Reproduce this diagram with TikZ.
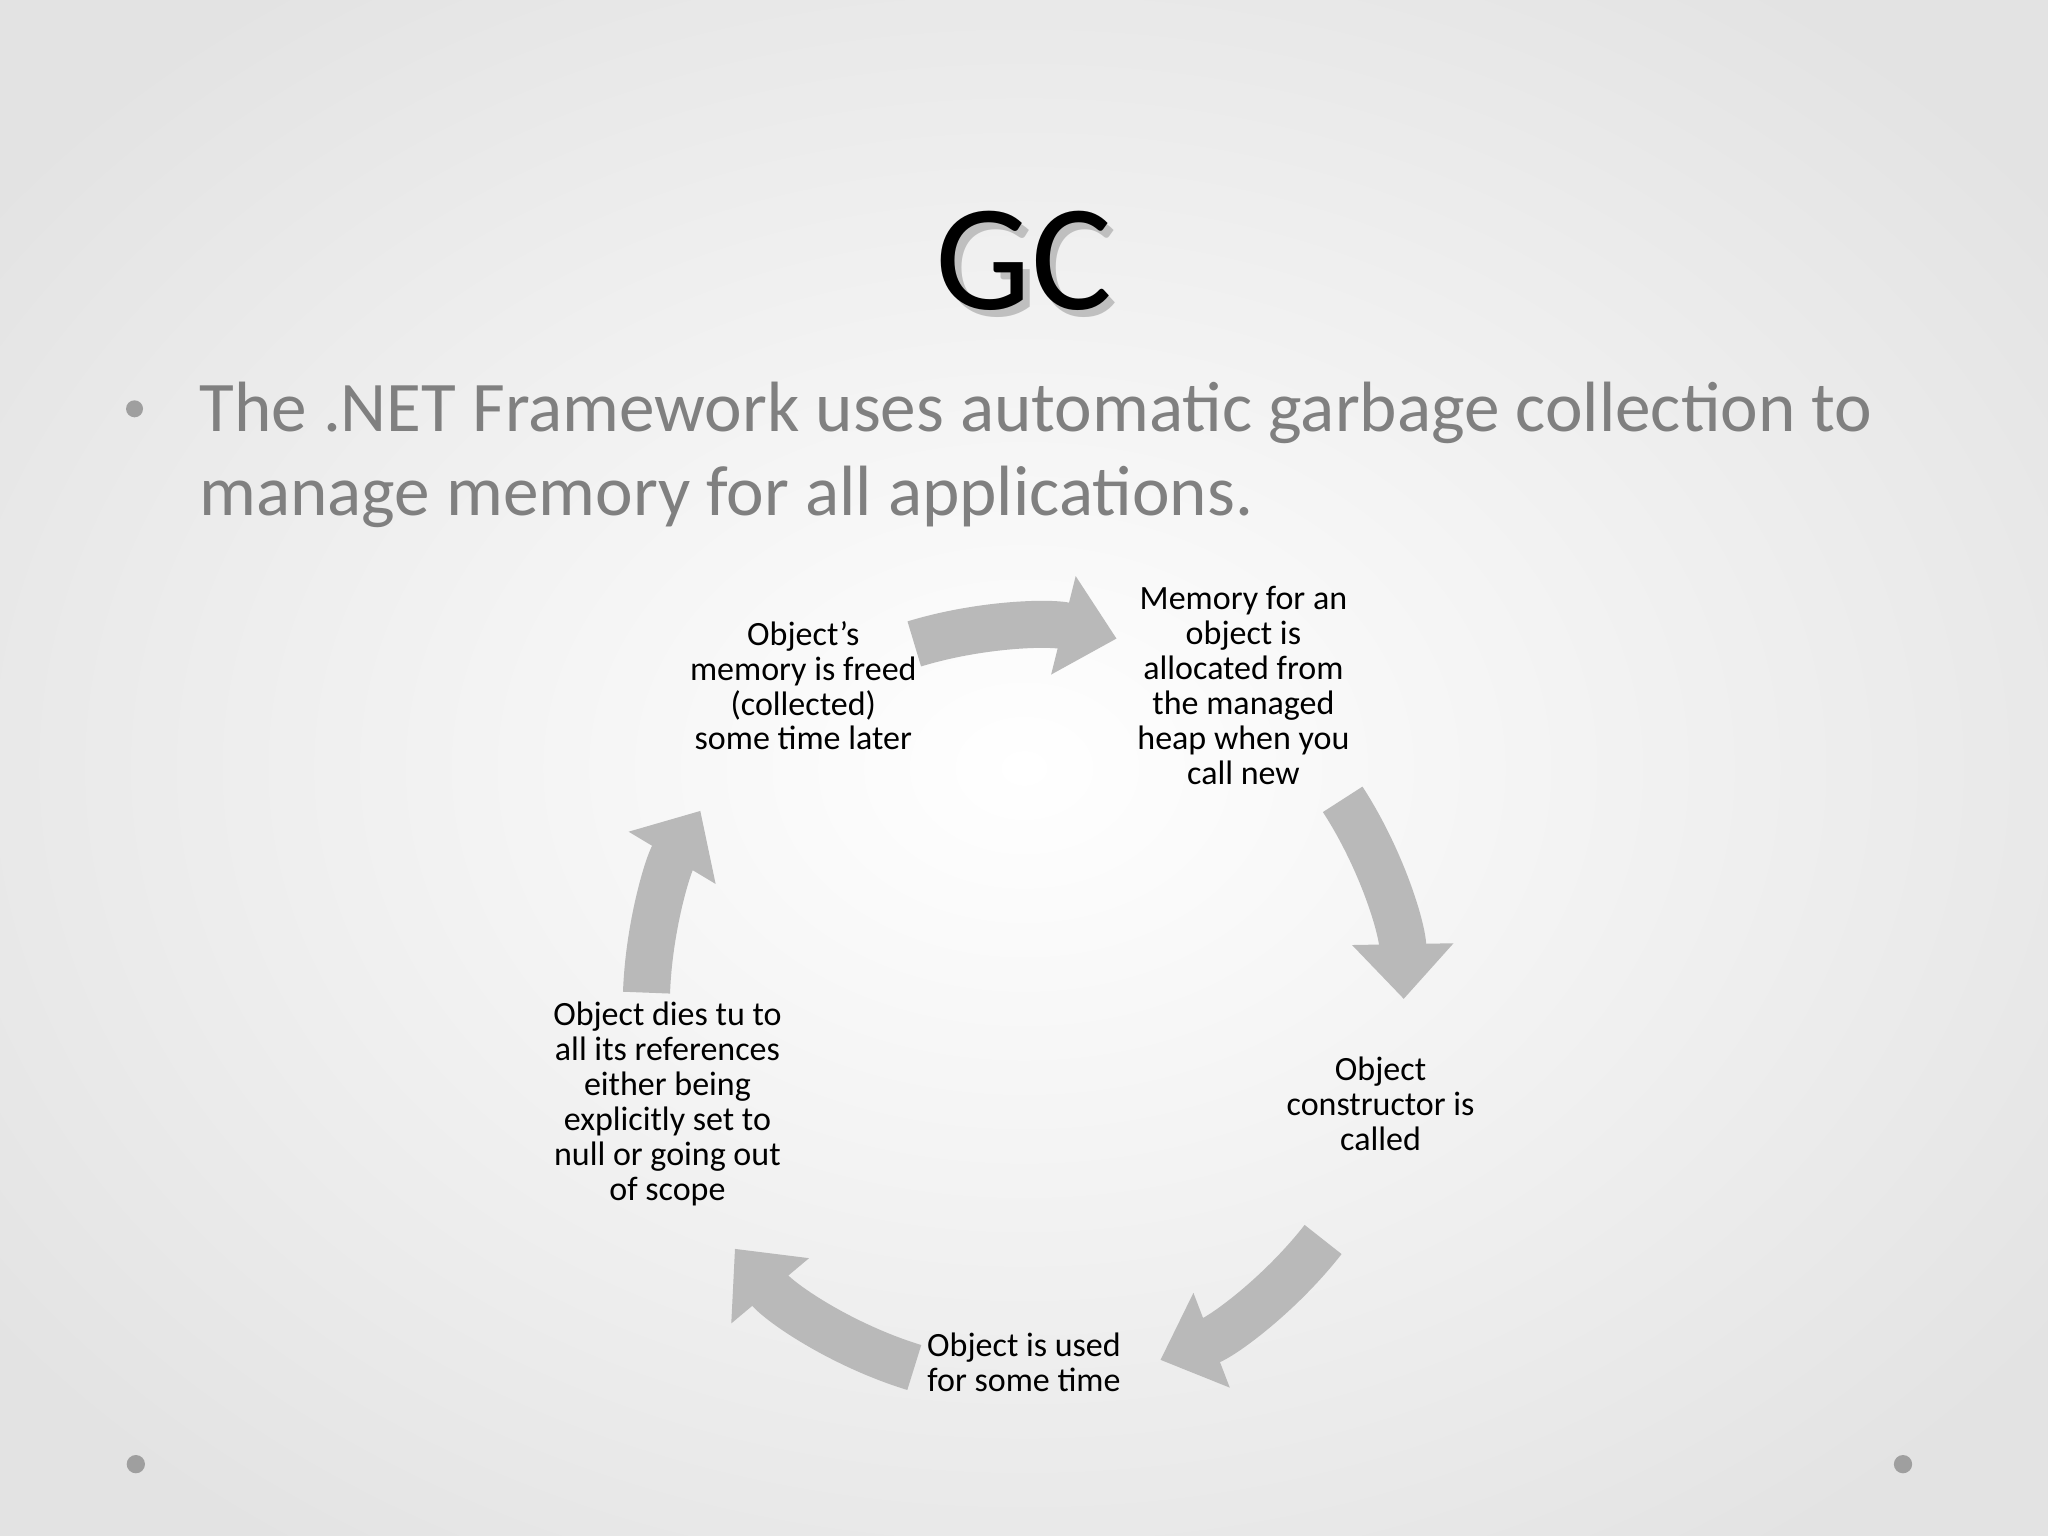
\documentclass[tikz,border=0pt]{standalone}
\usepackage{fontspec}
\setmainfont{Carlito}
\usetikzlibrary{arrows.meta,calc}
\begin{document}
\begin{tikzpicture}[x=0.01cm,y=-0.01cm,
  lbl/.style={align=center,font=\fontsize{7.4}{7.6}\selectfont,text=black},
  cyc/.style={line width=0.36cm,draw=gray!55,-{Triangle[width=0.75cm,length=0.42cm]}},
  dot/.style={circle,fill=gray!75,inner sep=0pt,minimum size=0.14cm}]
\useasboundingbox (0,0) rectangle (1568,1176);
\shade[inner color=white,outer color=gray!22] (-200,-150) rectangle (1768,1326);
\node[font=\fontsize{33}{36}\selectfont,text=black!25] (gcs) at (789,205) {GC};
\node[font=\fontsize{33}{36}\selectfont,text=black] (gc) at (784,200) {GC};
\node[dot,minimum size=0.13cm] (b1) at (103,313) {};
\node[anchor=north west,align=left,text=black!50,font=\fontsize{15.5}{18.3}\selectfont,inner sep=0pt] (body) at (152,292) {The .NET Framework uses automatic garbage collection to\\manage memory for all applications.};
\node[dot] (d1) at (104,1121) {};
\node[dot] (d2) at (1457,1121) {};
\coordinate (c) at (785,770);
\node[lbl] (t1) at (615,525) {Object’s\\memory is freed\\(collected)\\some time later};
\node[lbl] (t2) at (952,525) {Memory for an\\object is\\allocated from\\the managed\\heap when you\\call new};
\node[lbl] (t3) at (1057,845) {Object\\constructor is\\called};
\node[lbl] (t4) at (784,1043) {Object is used\\for some time};
\node[lbl] (t5) at (511,845) {Object dies tu to\\all its references\\either being\\explicitly set to\\null or going out\\of scope};
\def\r{290}
\draw[cyc] ($(c)+(-85,-277)$) arc[start angle=-107,end angle=-76,radius=\r];
\draw[cyc] ($(c)+(243,-158)$) arc[start angle=-33,end angle=-1,radius=\r];
\draw[cyc] ($(c)+(228,179)$) arc[start angle=38,end angle=69,radius=\r];
\draw[cyc] ($(c)+(-85,277)$) arc[start angle=107,end angle=140,radius=\r];
\draw[cyc] ($(c)+(-290,-10)$) arc[start angle=182,end angle=211,radius=\r];
\end{tikzpicture}
\end{document}
